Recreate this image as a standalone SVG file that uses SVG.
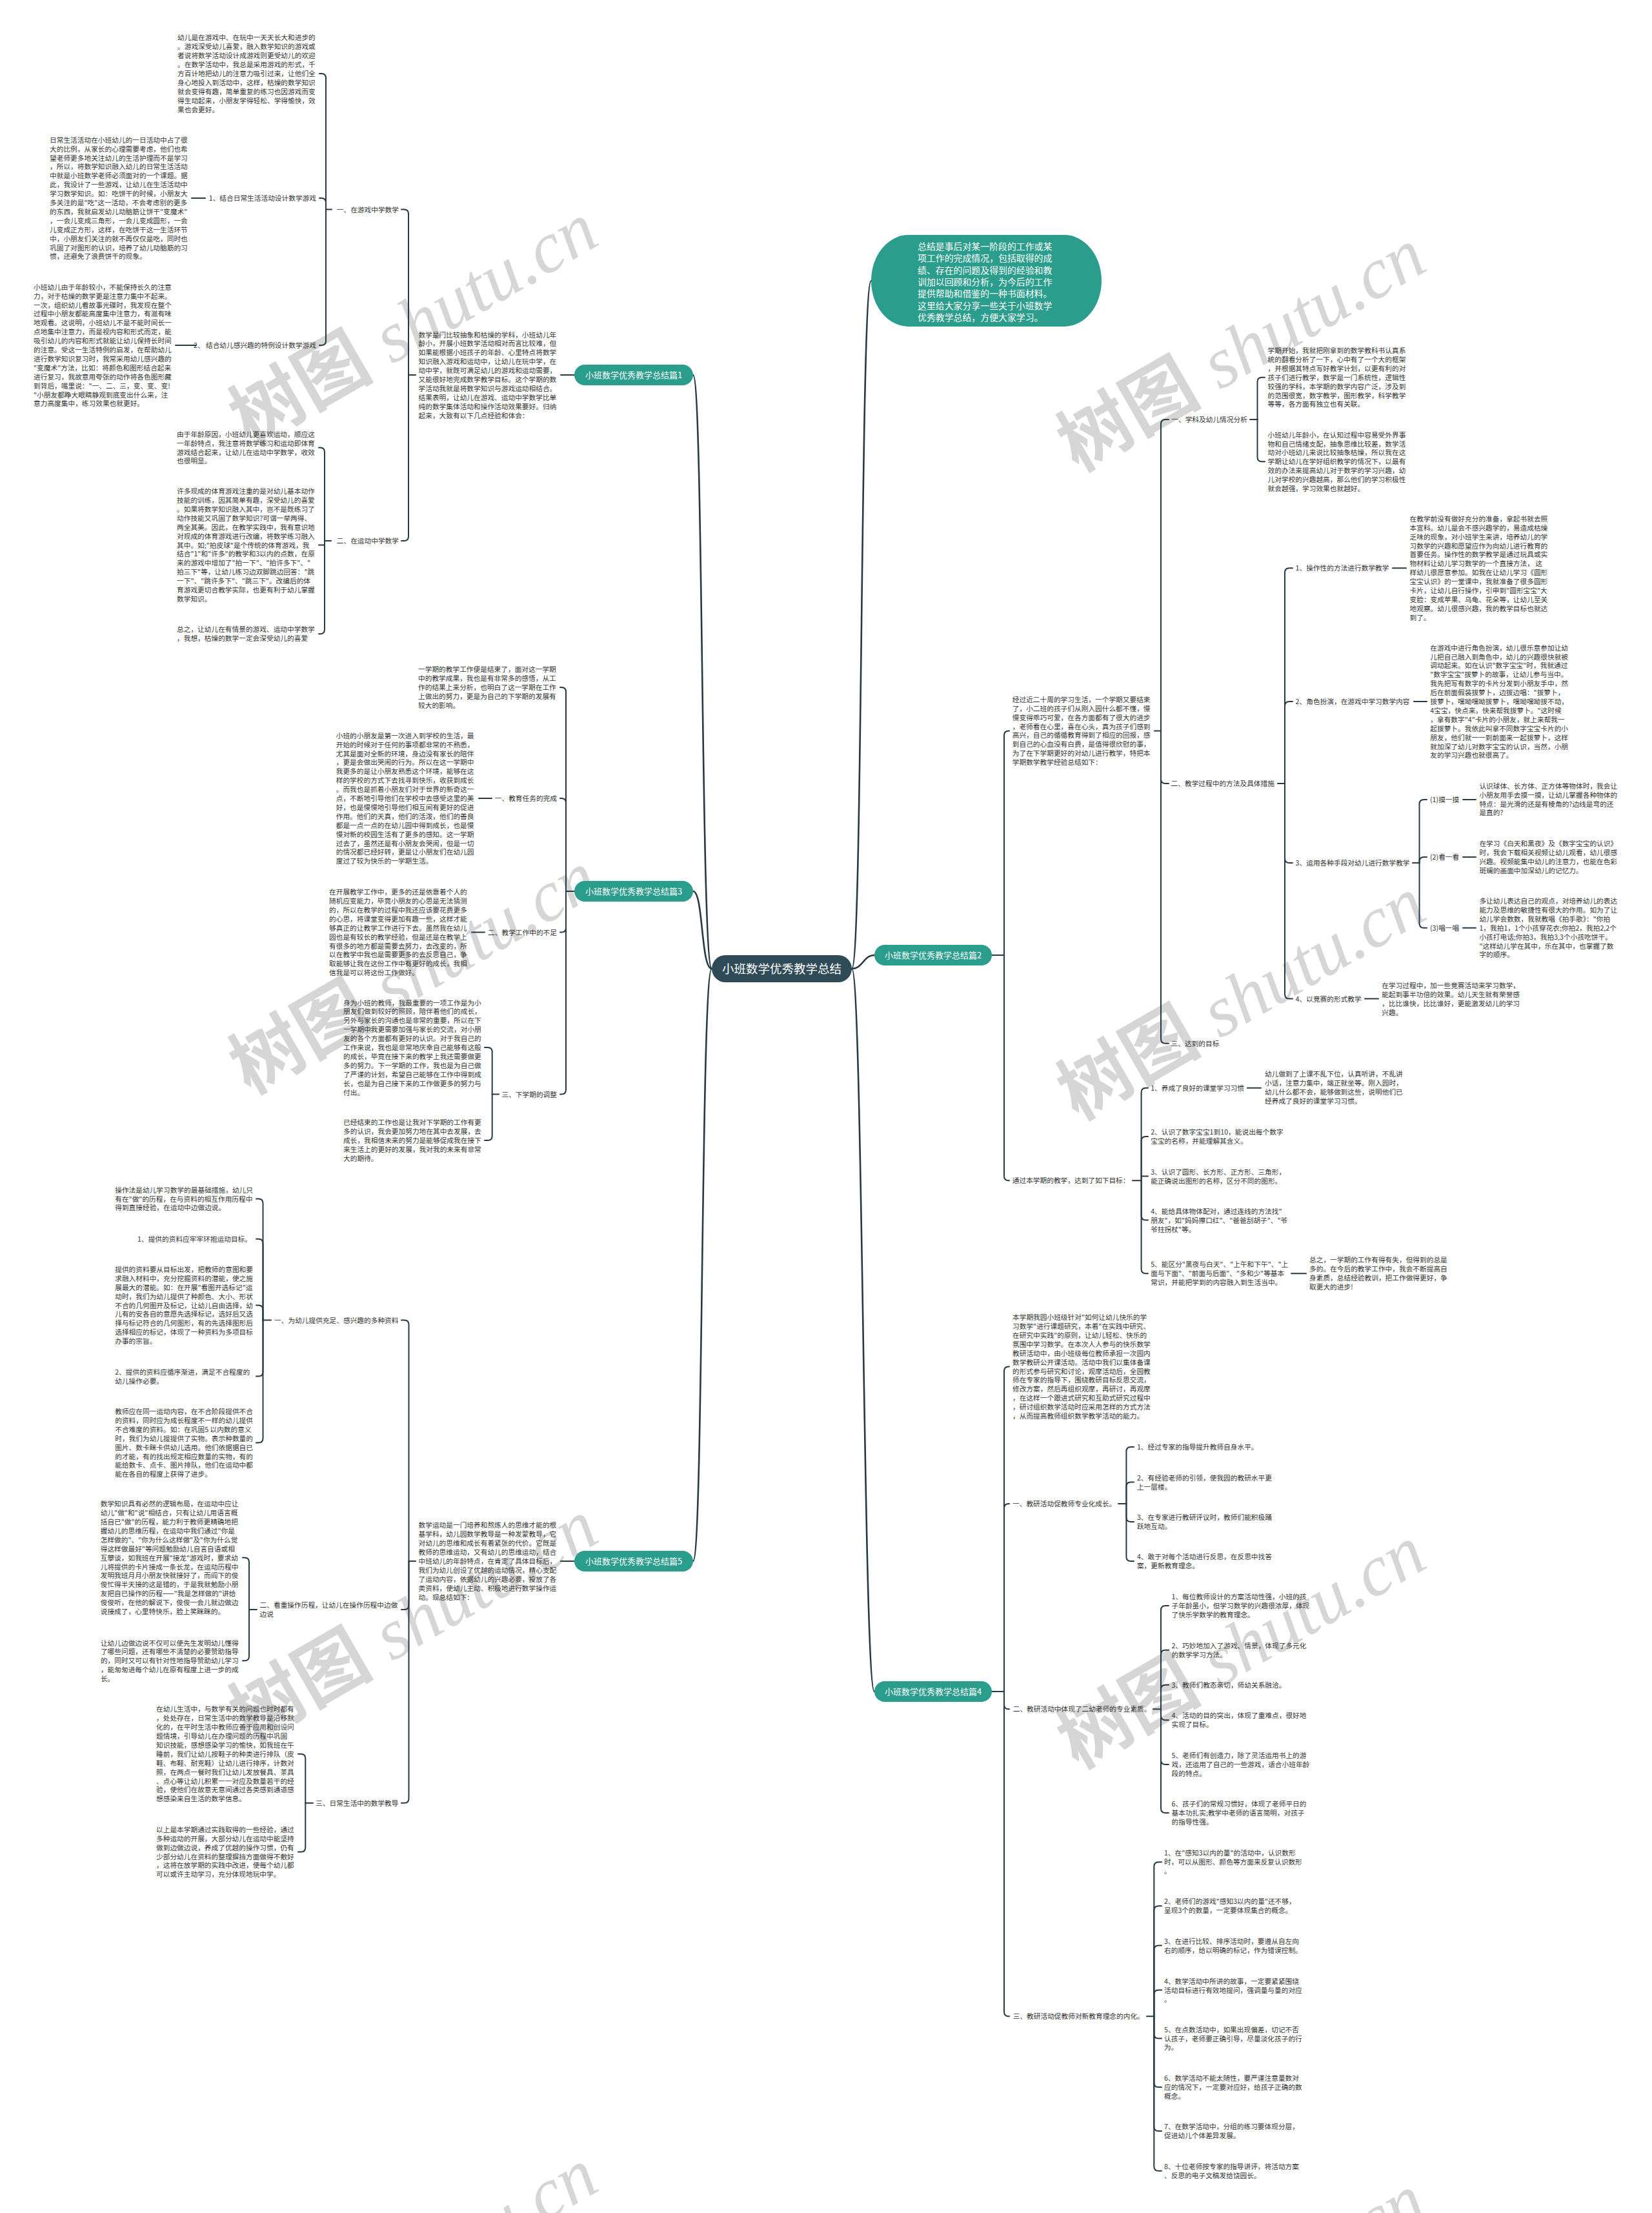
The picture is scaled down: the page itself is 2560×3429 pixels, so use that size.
<svg xmlns="http://www.w3.org/2000/svg" width="2560" height="3429" viewBox="0 0 2560 3429">
<style>
.t{font-family:"Noto Sans CJK SC","Noto Sans",sans-serif;font-size:10.7px;fill:#333}
.e{text-anchor:end}
.ln{fill:none;stroke:#263a44;stroke-width:2;stroke-linecap:round;stroke-linejoin:round}
.rl{fill:none;stroke:#263a44;stroke-width:2.6;stroke-linecap:round}
.bn{fill:#2a9d8c}
.bt{font-family:"Noto Sans CJK SC","Noto Sans",sans-serif;font-size:13px;fill:#fff;text-anchor:middle}
.wm{font-family:"Liberation Serif","Noto Sans CJK SC",serif;font-size:112px;fill:#d6d6d6}
</style>
<rect width="2560" height="3429" fill="#fff"/>
<g id="watermark" class="wm">
<text transform="translate(387 692) rotate(-30)"><tspan font-weight="700">树图</tspan><tspan dx="30" font-style="italic">shutu.cn</tspan></text>
<text transform="translate(387 1697) rotate(-30)"><tspan font-weight="700">树图</tspan><tspan dx="30" font-style="italic">shutu.cn</tspan></text>
<text transform="translate(387 2702) rotate(-30)"><tspan font-weight="700">树图</tspan><tspan dx="30" font-style="italic">shutu.cn</tspan></text>
<text transform="translate(387 3707) rotate(-30)"><tspan font-weight="700">树图</tspan><tspan dx="30" font-style="italic">shutu.cn</tspan></text>
<text transform="translate(1670 732) rotate(-30)"><tspan font-weight="700">树图</tspan><tspan dx="30" font-style="italic">shutu.cn</tspan></text>
<text transform="translate(1670 1737) rotate(-30)"><tspan font-weight="700">树图</tspan><tspan dx="30" font-style="italic">shutu.cn</tspan></text>
<text transform="translate(1670 2742) rotate(-30)"><tspan font-weight="700">树图</tspan><tspan dx="30" font-style="italic">shutu.cn</tspan></text>
<text transform="translate(1670 3747) rotate(-30)"><tspan font-weight="700">树图</tspan><tspan dx="30" font-style="italic">shutu.cn</tspan></text>
</g>

<g id="connectors">
<path class="rl" d="M1103 1501 C1086 1501 1090 581 1074 581"/>
<path class="rl" d="M1103 1501 C1086 1501 1090 1381 1074 1381"/>
<path class="rl" d="M1103 1501 C1086 1501 1090 2419 1074 2419"/>
<path class="rl" d="M1320 1501 C1337 1501 1333 435 1350 435"/>
<path class="rl" d="M1320 1501 C1337 1501 1338 1480 1355 1480"/>
<path class="rl" d="M1320 1501 C1337 1501 1338 2621 1355 2621"/>
<path class="ln" d="M890 581 H869"/>
<path class="ln" d="M644 581 H633"/>
<path class="ln" d="M633 581 V331.5 Q633 324.5 626 324.5 H622"/>
<path class="ln" d="M633 581 V831 Q633 838 626 838 H622"/>
<path class="ln" d="M514 324.5 H505"/>
<path class="ln" d="M505 324.5 V121 Q505 114 498 114 H495"/>
<path class="ln" d="M505 324.5 V314 Q505 307 498 307 H495"/>
<path class="ln" d="M505 324.5 V528 Q505 535 498 535 H495"/>
<path class="ln" d="M318 307 H297"/>
<path class="ln" d="M304 535 H272"/>
<path class="ln" d="M513 838 H503"/>
<path class="ln" d="M503 838 V700.5 Q503 693.5 496 693.5 H494"/>
<path class="ln" d="M503 844.5 H494"/>
<path class="ln" d="M503 838 V975.3 Q503 982.3 496 982.3 H494"/>
<path class="ln" d="M890 1381 H877"/>
<path class="ln" d="M877 1381 V1072 Q877 1065 870 1065 H868"/>
<path class="ln" d="M877 1381 V1244 Q877 1237 870 1237 H868"/>
<path class="ln" d="M877 1381 V1437.6 Q877 1444.6 870 1444.6 H868"/>
<path class="ln" d="M877 1381 V1688.6 Q877 1695.6 870 1695.6 H868"/>
<path class="ln" d="M762 1237 H742"/>
<path class="ln" d="M751 1444.6 H731"/>
<path class="ln" d="M773 1695.6 H762.7"/>
<path class="ln" d="M762.7 1695.6 V1630 Q762.7 1623 755.7 1623 H751"/>
<path class="ln" d="M762.7 1695.6 V1760 Q762.7 1767 755.7 1767 H751"/>
<path class="ln" d="M890 2419 H869"/>
<path class="ln" d="M644 2419 H633.5"/>
<path class="ln" d="M633.5 2419 V2052.5 Q633.5 2045.5 626.5 2045.5 H622"/>
<path class="ln" d="M633.5 2419 V2487 Q633.5 2494 626.5 2494 H622"/>
<path class="ln" d="M633.5 2419 V2786.7 Q633.5 2793.7 626.5 2793.7 H622"/>
<path class="ln" d="M420 2045.5 H407.5"/>
<path class="ln" d="M407.5 2045.5 V1864.5 Q407.5 1857.5 400.5 1857.5 H397"/>
<path class="ln" d="M407.5 2045.5 V1926.7 Q407.5 1919.7 400.5 1919.7 H397"/>
<path class="ln" d="M407.5 2045.5 V2029.5 Q407.5 2022.5 400.5 2022.5 H397"/>
<path class="ln" d="M407.5 2045.5 V2125.5 Q407.5 2132.5 400.5 2132.5 H397"/>
<path class="ln" d="M407.5 2045.5 V2228.6 Q407.5 2235.6 400.5 2235.6 H397"/>
<path class="ln" d="M398 2494 H386"/>
<path class="ln" d="M386 2494 V2420.6 Q386 2413.6 379 2413.6 H376"/>
<path class="ln" d="M386 2494 V2566.3 Q386 2573.3 379 2573.3 H376"/>
<path class="ln" d="M485 2793.7 H473.3"/>
<path class="ln" d="M473.3 2793.7 V2724.8 Q473.3 2717.8 466.3 2717.8 H462"/>
<path class="ln" d="M473.3 2793.7 V2862.5 Q473.3 2869.5 466.3 2869.5 H462"/>
<path class="ln" d="M1537 1480 H1556"/>
<path class="ln" d="M1556 1480 V1139.4 Q1556 1132.4 1563 1132.4 H1564"/>
<path class="ln" d="M1556 1480 V1822.3 Q1556 1829.3 1563 1829.3 H1564"/>
<path class="ln" d="M1789 1132.4 H1799"/>
<path class="ln" d="M1799 1132.4 V657 Q1799 650 1806 650 H1811"/>
<path class="ln" d="M1799 1132.4 V1207 Q1799 1214 1806 1214 H1811"/>
<path class="ln" d="M1799 1132.4 V1609.7 Q1799 1616.7 1806 1616.7 H1811"/>
<path class="ln" d="M1937 650 H1948.5"/>
<path class="ln" d="M1948.5 650 V591.7 Q1948.5 584.7 1955.5 584.7 H1960"/>
<path class="ln" d="M1948.5 650 V708.3 Q1948.5 715.3 1955.5 715.3 H1960"/>
<path class="ln" d="M1980 1214 H1991"/>
<path class="ln" d="M1991 1214 V887.2 Q1991 880.2 1998 880.2 H2003"/>
<path class="ln" d="M1991 1214 V1094 Q1991 1087 1998 1087 H2003"/>
<path class="ln" d="M1991 1214 V1330 Q1991 1337 1998 1337 H2003"/>
<path class="ln" d="M1991 1214 V1540.5 Q1991 1547.5 1998 1547.5 H2003"/>
<path class="ln" d="M2158 880.2 H2179"/>
<path class="ln" d="M2191 1087 H2211"/>
<path class="ln" d="M2189 1337 H2199.5"/>
<path class="ln" d="M2199.5 1337 V1246 Q2199.5 1239 2206.5 1239 H2211"/>
<path class="ln" d="M2199.5 1337 V1335 Q2199.5 1328 2206.5 1328 H2211"/>
<path class="ln" d="M2199.5 1337 V1430.7 Q2199.5 1437.7 2206.5 1437.7 H2211"/>
<path class="ln" d="M2267 1239 H2287"/>
<path class="ln" d="M2267 1328 H2287"/>
<path class="ln" d="M2267 1437.7 H2287"/>
<path class="ln" d="M2115 1547.5 H2136"/>
<path class="ln" d="M1755 1829.3 H1768.6"/>
<path class="ln" d="M1768.6 1829.3 V1692.7 Q1768.6 1685.7 1775.6 1685.7 H1779"/>
<path class="ln" d="M1768.6 1829.3 V1768 Q1768.6 1761 1775.6 1761 H1779"/>
<path class="ln" d="M1768.6 1822.5 H1779"/>
<path class="ln" d="M1768.6 1829.3 V1883.6 Q1768.6 1890.6 1775.6 1890.6 H1779"/>
<path class="ln" d="M1768.6 1829.3 V1966.3 Q1768.6 1973.3 1775.6 1973.3 H1779"/>
<path class="ln" d="M1933 1685.7 H1954"/>
<path class="ln" d="M2001 1973.3 H2024"/>
<path class="ln" d="M1537 2621 H1556"/>
<path class="ln" d="M1556 2621 V2124.5 Q1556 2117.5 1563 2117.5 H1564"/>
<path class="ln" d="M1556 2621 V2337 Q1556 2330 1563 2330 H1564"/>
<path class="ln" d="M1556 2621 V2641.3 Q1556 2648.3 1563 2648.3 H1564"/>
<path class="ln" d="M1556 2621 V3117.3 Q1556 3124.3 1563 3124.3 H1564"/>
<path class="ln" d="M1733 2330 H1745.4"/>
<path class="ln" d="M1745.4 2330 V2249 Q1745.4 2242 1752.4 2242 H1757"/>
<path class="ln" d="M1745.4 2330 V2303.5 Q1745.4 2296.5 1752.4 2296.5 H1757"/>
<path class="ln" d="M1745.4 2330 V2351 Q1745.4 2358 1752.4 2358 H1757"/>
<path class="ln" d="M1745.4 2330 V2412 Q1745.4 2419 1752.4 2419 H1757"/>
<path class="ln" d="M1787 2648.3 H1799"/>
<path class="ln" d="M1799 2648.3 V2495 Q1799 2488 1806 2488 H1811"/>
<path class="ln" d="M1799 2648.3 V2563.8 Q1799 2556.8 1806 2556.8 H1811"/>
<path class="ln" d="M1799 2648.3 V2617.7 Q1799 2610.7 1806 2610.7 H1811"/>
<path class="ln" d="M1799 2648.3 V2658.3 Q1799 2665.3 1806 2665.3 H1811"/>
<path class="ln" d="M1799 2648.3 V2727 Q1799 2734 1806 2734 H1811"/>
<path class="ln" d="M1799 2648.3 V2802 Q1799 2809 1806 2809 H1811"/>
<path class="ln" d="M1777 3124.3 H1788.3"/>
<path class="ln" d="M1788.3 3124.3 V2892.3 Q1788.3 2885.3 1795.3 2885.3 H1800"/>
<path class="ln" d="M1788.3 3124.3 V2960.3 Q1788.3 2953.3 1795.3 2953.3 H1800"/>
<path class="ln" d="M1788.3 3124.3 V3021.5 Q1788.3 3014.5 1795.3 3014.5 H1800"/>
<path class="ln" d="M1788.3 3124.3 V3090.6 Q1788.3 3083.6 1795.3 3083.6 H1800"/>
<path class="ln" d="M1788.3 3124.3 V3151.5 Q1788.3 3158.5 1795.3 3158.5 H1800"/>
<path class="ln" d="M1788.3 3124.3 V3227 Q1788.3 3234 1795.3 3234 H1800"/>
<path class="ln" d="M1788.3 3124.3 V3295 Q1788.3 3302 1795.3 3302 H1800"/>
<path class="ln" d="M1788.3 3124.3 V3356.7 Q1788.3 3363.7 1795.3 3363.7 H1800"/>
</g>

<g id="root">
<rect x="1103" y="1480" width="217" height="42" rx="21" fill="#2f4b57"/>
<text x="1211.5" y="1507.5" font-family="Noto Sans CJK SC, Noto Sans, sans-serif" font-size="18.5" fill="#fff" text-anchor="middle">小班数学优秀教学总结</text>
</g>

<g id="intro">
<rect x="1350" y="364" width="357" height="142" rx="58" ry="71" class="bn"/>
<text font-family="Noto Sans CJK SC, Noto Sans, sans-serif" font-size="13.9" fill="#fff">
<tspan x="1422" y="387">总结是事后对某一阶段的工作或某</tspan>
<tspan x="1422" y="405.3">项工作的完成情况，包括取得的成</tspan>
<tspan x="1422" y="423.6">绩、存在的问题及得到的经验和教</tspan>
<tspan x="1422" y="441.9">训加以回顾和分析，为今后的工作</tspan>
<tspan x="1422" y="460.2">提供帮助和借鉴的一种书面材料。</tspan>
<tspan x="1422" y="478.5">这里给大家分享一些关于小班数学</tspan>
<tspan x="1422" y="496.8">优秀教学总结，方便大家学习。</tspan>
</text>
</g>

<g id="p1">
<rect x="890" y="565" width="184" height="32" rx="16" class="bn"/>
<text class="bt" x="982" y="585.9">小班数学优秀教学总结篇1</text>
</g>
<g id="p1-intro"><text class="t">
<tspan x="648.5" y="522.5">数学是门比较抽象和枯燥的学科，小班幼儿年</tspan>
<tspan x="648.5" y="536.4">龄小，开展小班数学活动相对而言比较难，但</tspan>
<tspan x="648.5" y="550.3">如果能根据小班孩子的年龄、心里特点将数学</tspan>
<tspan x="648.5" y="564.2">知识融入游戏和运动中，让幼儿在玩中学，在</tspan>
<tspan x="648.5" y="578.1">动中学，就既可满足幼儿的游戏和运动需要，</tspan>
<tspan x="648.5" y="592">又能很好地完成数学教学目标。这个学期的数</tspan>
<tspan x="648.5" y="605.9">学活动我就是将数学知识与游戏运动相结合。</tspan>
<tspan x="648.5" y="619.8">结果表明，让幼儿在游戏、运动中学数学比单</tspan>
<tspan x="648.5" y="633.7">纯的数学集体活动和操作活动效果要好。归纳</tspan>
<tspan x="648.5" y="647.6">起来，大致有以下几点经验和体会：</tspan>
</text></g>
<g id="p1-1"><text class="t e" x="618" y="328.5">一、在游戏中学数学</text></g>
<g id="p1-1-a"><text class="t">
<tspan x="275" y="62.4">幼儿是在游戏中、在玩中一天天长大和进步的</tspan>
<tspan x="275" y="76.3">。游戏深受幼儿喜爱，融入数学知识的游戏或</tspan>
<tspan x="275" y="90.2">者说将数学活动设计成游戏则更受幼儿的欢迎</tspan>
<tspan x="275" y="104.1">。在数学活动中，我总是采用游戏的形式，千</tspan>
<tspan x="275" y="118">方百计地把幼儿的注意力吸引过来，让他们全</tspan>
<tspan x="275" y="131.9">身心地投入到活动中，这样，枯燥的数学知识</tspan>
<tspan x="275" y="145.8">就会变得有趣，简单重复的练习也因游戏而变</tspan>
<tspan x="275" y="159.7">得生动起来，小朋友学得轻松、学得愉快，效</tspan>
<tspan x="275" y="173.6">果也会更好。</tspan>
</text></g>
<g id="p1-1-1"><text class="t e" x="490" y="311">1、结合日常生活活动设计数学游戏</text></g>
<g id="p1-1-1-a"><text class="t">
<tspan x="77" y="220.7">日常生活活动在小班幼儿的一日活动中占了很</tspan>
<tspan x="77" y="234.6">大的比例，从家长的心理需要考虑，他们也希</tspan>
<tspan x="77" y="248.5">望老师更多地关注幼儿的生活护理而不是学习</tspan>
<tspan x="77" y="262.4">，所以，将数学知识融入幼儿的日常生活活动</tspan>
<tspan x="77" y="276.3">中就是小班数学老师必须面对的一个课题。据</tspan>
<tspan x="77" y="290.2">此，我设计了一些游戏，让幼儿在生活活动中</tspan>
<tspan x="77" y="304.1">学习数学知识。如：吃饼干的时候，小朋友大</tspan>
<tspan x="77" y="318">多关注的是"吃"这一活动，不会考虑别的更多</tspan>
<tspan x="77" y="331.9">的东西，我就启发幼儿动脑筋让饼干"变魔术"</tspan>
<tspan x="77" y="345.8">，一会儿变成三角形，一会儿变成圆形，一会</tspan>
<tspan x="77" y="359.7">儿变成正方形，这样，在吃饼干这一生活环节</tspan>
<tspan x="77" y="373.6">中，小朋友们关注的就不再仅仅是吃，同时也</tspan>
<tspan x="77" y="387.5">巩固了对图形的认识，培养了幼儿动脑筋的习</tspan>
<tspan x="77" y="401.4">惯，还避免了浪费饼干的现象。</tspan>
</text></g>
<g id="p1-1-2"><text class="t e" x="490" y="539">2、 结合幼儿感兴趣的特例设计数学游戏</text></g>
<g id="p1-1-2-a"><text class="t">
<tspan x="52" y="448.7">小班幼儿由于年龄较小，不能保持长久的注意</tspan>
<tspan x="52" y="462.6">力，对于枯燥的数学更是注意力集中不起来。</tspan>
<tspan x="52" y="476.5">一次，组织幼儿看故事光碟时，我发现在整个</tspan>
<tspan x="52" y="490.4">过程中小朋友都能高度集中注意力，有滋有味</tspan>
<tspan x="52" y="504.3">地观看。这说明，小班幼儿不是不能时间长一</tspan>
<tspan x="52" y="518.2">点地集中注意力，而是视内容和形式而定，能</tspan>
<tspan x="52" y="532.1">吸引幼儿的内容和形式就能让幼儿保持长时间</tspan>
<tspan x="52" y="546">的注意。受这一生活特例的启发，在帮助幼儿</tspan>
<tspan x="52" y="559.9">进行数学知识复习时，我常采用幼儿感兴趣的</tspan>
<tspan x="52" y="573.8">"变魔术"方法，比如：将颜色和图形结合起来</tspan>
<tspan x="52" y="587.7">进行复习，我故意用夸张的动作将各色图形藏</tspan>
<tspan x="52" y="601.6">到背后，嘴里说："一、二、三，变、变、变!</tspan>
<tspan x="52" y="615.5">"小朋友都睁大眼睛静观到底变出什么来，注</tspan>
<tspan x="52" y="629.4">意力高度集中，练习效果也就更好。</tspan>
</text></g>
<g id="p1-2"><text class="t e" x="618" y="842">二、在运动中学数学</text></g>
<g id="p1-2-a"><text class="t">
<tspan x="274" y="676.7">由于年龄原因，小班幼儿更喜欢运动，顺应这</tspan>
<tspan x="274" y="690.6">一年龄特点，我注意将数学练习和运动即体育</tspan>
<tspan x="274" y="704.5">游戏结合起来，让幼儿在运动中学数学，收效</tspan>
<tspan x="274" y="718.4">也很明显。</tspan>
</text></g>
<g id="p1-2-b"><text class="t">
<tspan x="274" y="765.1">许多现成的体育游戏注重的是对幼儿基本动作</tspan>
<tspan x="274" y="779">技能的训练，因其简单有趣，深受幼儿的喜爱</tspan>
<tspan x="274" y="792.9">。如果将数学知识融入其中，岂不是既练习了</tspan>
<tspan x="274" y="806.8">动作技能又巩固了数学知识?可谓一举两得、</tspan>
<tspan x="274" y="820.7">两全其美。因此，在教学实践中，我有意识地</tspan>
<tspan x="274" y="834.6">对现成的体育游戏进行改编，将数学练习融入</tspan>
<tspan x="274" y="848.5">其中。如;"拍皮球"是个传统的体育游戏，我</tspan>
<tspan x="274" y="862.4">结合"1"和"许多"的教学和3以内的点数，在原</tspan>
<tspan x="274" y="876.3">来的游戏中增加了"拍一下"、"拍许多下"、"</tspan>
<tspan x="274" y="890.2">拍三下"等，让幼儿练习边双脚跳边回答："跳</tspan>
<tspan x="274" y="904.1">一下"、"跳许多下"、"跳三下"。改编后的体</tspan>
<tspan x="274" y="918">育游戏更切合教学实际，也更有利于幼儿掌握</tspan>
<tspan x="274" y="931.9">数学知识。</tspan>
</text></g>
<g id="p1-2-c"><text class="t">
<tspan x="274" y="979.4">总之，让幼儿在有情景的游戏、运动中学数学</tspan>
<tspan x="274" y="993.3">，我想，枯燥的数学一定会深受幼儿的喜爱</tspan>
</text></g>

<g id="p3">
<rect x="890" y="1365" width="184" height="32" rx="16" class="bn"/>
<text class="bt" x="982" y="1385.9">小班数学优秀教学总结篇3</text>
</g>
<g id="p3-intro"><text class="t">
<tspan x="648" y="1041.2">一学期的教学工作便是结束了，面对这一学期</tspan>
<tspan x="648" y="1055.1">中的教学成果，我也是有非常多的感悟，从工</tspan>
<tspan x="648" y="1069">作的结果上来分析，也明白了这一学期在工作</tspan>
<tspan x="648" y="1082.9">上做出的努力，更是为自己的下学期的发展有</tspan>
<tspan x="648" y="1096.8">较大的影响。</tspan>
</text></g>
<g id="p3-1"><text class="t e" x="863" y="1241">一、教育任务的完成</text></g>
<g id="p3-1-a"><text class="t">
<tspan x="520.7" y="1143.7">小班的小朋友是第一次进入到学校的生活，最</tspan>
<tspan x="520.7" y="1157.6">开始的时候对于任何的事项都非常的不熟悉，</tspan>
<tspan x="520.7" y="1171.5">尤其是面对全新的环境，身边没有家长的陪伴</tspan>
<tspan x="520.7" y="1185.4">，更是会做出哭闹的行为。所以在这一学期中</tspan>
<tspan x="520.7" y="1199.3">我更多的是让小朋友熟悉这个环境，能够在这</tspan>
<tspan x="520.7" y="1213.2">样的学校的方式下去找寻到快乐，收获到成长</tspan>
<tspan x="520.7" y="1227.1">。而我也是抓着小朋友们对于世界的新奇这一</tspan>
<tspan x="520.7" y="1241">点，不断地引导他们在学校中去感受这里的美</tspan>
<tspan x="520.7" y="1254.9">好，也是慢慢地引导他们相互间有更好的促进</tspan>
<tspan x="520.7" y="1268.8">作用。他们的天真，他们的活泼，他们的善良</tspan>
<tspan x="520.7" y="1282.7">都是一点一点的在幼儿园中得到成长，也是慢</tspan>
<tspan x="520.7" y="1296.6">慢对新的校园生活有了更多的感知。这一学期</tspan>
<tspan x="520.7" y="1310.5">过去了，虽然还是有小朋友会哭闹，但是一切</tspan>
<tspan x="520.7" y="1324.4">的情况都已经好转，更是让小朋友们在幼儿园</tspan>
<tspan x="520.7" y="1338.3">度过了较为快乐的一学期生活。</tspan>
</text></g>
<g id="p3-2"><text class="t e" x="863" y="1448.6">二、教学工作中的不足</text></g>
<g id="p3-2-a"><text class="t">
<tspan x="510" y="1386.1">在开展教学工作中，更多的还是依靠着个人的</tspan>
<tspan x="510" y="1400">随机应变能力，毕竟小朋友的心思是无法猜测</tspan>
<tspan x="510" y="1413.9">的，所以在教学的过程中我还应该要花费更多</tspan>
<tspan x="510" y="1427.8">的心思，将课堂变得更加有趣一些，这样才能</tspan>
<tspan x="510" y="1441.7">够真正的让教学工作进行下去。虽然我在幼儿</tspan>
<tspan x="510" y="1455.6">园也是有较长的教学经验，但是还是在教学上</tspan>
<tspan x="510" y="1469.5">有很多的地方都是需要去努力，去改变的，所</tspan>
<tspan x="510" y="1483.4">以在教学中我也是需要更多的去反思自己，争</tspan>
<tspan x="510" y="1497.3">取能够让我在这份工作中有更好的成长，我相</tspan>
<tspan x="510" y="1511.2">信我是可以将这份工作做好。</tspan>
</text></g>
<g id="p3-3"><text class="t e" x="863" y="1699.6">三、下学期的调整</text></g>
<g id="p3-3-a"><text class="t">
<tspan x="532" y="1557.5">身为小班的教师，我最重要的一项工作是为小</tspan>
<tspan x="532" y="1571.4">朋友们做到较好的照顾，陪伴着他们的成长，</tspan>
<tspan x="532" y="1585.3">另外与家长的沟通也是非常的重要，所以在下</tspan>
<tspan x="532" y="1599.2">一学期中我更需要加强与家长的交流，对小朋</tspan>
<tspan x="532" y="1613.1">友的各个方面都有更好的认识。对于我自己的</tspan>
<tspan x="532" y="1627">工作来说，我也是非常地庆幸自己能够有这般</tspan>
<tspan x="532" y="1640.9">的成长，毕竟在接下来的教学上我还需要做更</tspan>
<tspan x="532" y="1654.8">多的努力。下一学期的工作，我也是为自己做</tspan>
<tspan x="532" y="1668.7">了严谨的计划，希望自己能够在工作中得到成</tspan>
<tspan x="532" y="1682.6">长，也是为自己接下来的工作做更多的努力与</tspan>
<tspan x="532" y="1696.5">付出。</tspan>
</text></g>
<g id="p3-3-b"><text class="t">
<tspan x="532" y="1743.2">已经结束的工作也是让我对下学期的工作有更</tspan>
<tspan x="532" y="1757.1">多的认识，我会更加努力地在其中去发展，去</tspan>
<tspan x="532" y="1771">成长，我相信未来的努力是能够促成我在接下</tspan>
<tspan x="532" y="1784.9">来生活上的更好的发展，我对我的未来有非常</tspan>
<tspan x="532" y="1798.8">大的期待。</tspan>
</text></g>

<g id="p5">
<rect x="890" y="2403" width="184" height="32" rx="16" class="bn"/>
<text class="bt" x="982" y="2423.9">小班数学优秀教学总结篇5</text>
</g>
<g id="p5-intro"><text class="t">
<tspan x="648.5" y="2367.4">数学运动是一门培养和熬炼人的思维才能的根</tspan>
<tspan x="648.5" y="2381.3">基学科，幼儿园数学教导是一种发蒙教导，它</tspan>
<tspan x="648.5" y="2395.2">对幼儿的思维和成长有着紧张的代价。它既是</tspan>
<tspan x="648.5" y="2409.1">教师的思维运动，又有幼儿的思维运动，结合</tspan>
<tspan x="648.5" y="2423">中班幼儿的年龄特点，在肯定了具体目标后，</tspan>
<tspan x="648.5" y="2436.9">我们为幼儿创设了优越的运动情况，精心支配</tspan>
<tspan x="648.5" y="2450.8">了运动内容，依据幼儿的兴趣必要，投放了各</tspan>
<tspan x="648.5" y="2464.7">类资料，使幼儿主动、积极地进行数学操作运</tspan>
<tspan x="648.5" y="2478.6">动。现总结如下：</tspan>
</text></g>
<g id="p5-1"><text class="t e" x="617.5" y="2049.5">一、为幼儿提供充足、感兴趣的多种资料</text></g>
<g id="p5-1-a"><text class="t">
<tspan x="178.2" y="1847.6">操作法是幼儿学习数学的最基础措施，幼儿只</tspan>
<tspan x="178.2" y="1861.5">有在"做"的历程，在与资料的相互作用历程中</tspan>
<tspan x="178.2" y="1875.4">得到直接经验，在运动中边做边说。</tspan>
</text></g>
<g id="p5-1-b"><text class="t e" x="390" y="1923.7">1、提供的资料应牢牢环抱运动目标。</text></g>
<g id="p5-1-c"><text class="t">
<tspan x="178.2" y="1970.9">提供的资料要从目标出发，把教师的意图和要</tspan>
<tspan x="178.2" y="1984.8">求融入材料中，充分挖掘资料的潜能，使之施</tspan>
<tspan x="178.2" y="1998.7">展最大的潜能。如：在开展"看图开选标记"运</tspan>
<tspan x="178.2" y="2012.6">动时，我们为幼儿提供了种颜色、大小、形状</tspan>
<tspan x="178.2" y="2026.5">不合的几何图开及标记，让幼儿自由选择，幼</tspan>
<tspan x="178.2" y="2040.4">儿有的安各自的意愿先选择标记，选好后又选</tspan>
<tspan x="178.2" y="2054.3">择与标记符合的几何图形，有的先选择图形后</tspan>
<tspan x="178.2" y="2068.2">选择相应的标记，体现了一种资料为多项目标</tspan>
<tspan x="178.2" y="2082.1">办事的宗旨。</tspan>
</text></g>
<g id="p5-1-d"><text class="t">
<tspan x="178.2" y="2129.6">2、提供的资料应循序渐进，满足不合程度的</tspan>
<tspan x="178.2" y="2143.5">幼儿操作必要。</tspan>
</text></g>
<g id="p5-1-e"><text class="t">
<tspan x="178.2" y="2191">教师应在同一运动内容，在不合阶段提供不合</tspan>
<tspan x="178.2" y="2204.9">的资料，同时应为成长程度不一样的幼儿提供</tspan>
<tspan x="178.2" y="2218.8">不合难度的资料。如：在巩固5 以内数的意义</tspan>
<tspan x="178.2" y="2232.7">时，我们为幼儿提提供了实物。表示种数量的</tspan>
<tspan x="178.2" y="2246.6">图片、数卡眯卡供幼儿选用。他们依据据自已</tspan>
<tspan x="178.2" y="2260.5">的才能，有的找出规定相应数量的实物，有的</tspan>
<tspan x="178.2" y="2274.4">能给数卡、点卡、图片排队，他们在运动中都</tspan>
<tspan x="178.2" y="2288.3">能在各自的程度上获得了进步。</tspan>
</text></g>
<g id="p5-2"><text class="t">
<tspan x="402.6" y="2491.1">二、看重操作历程，让幼儿在操作历程中边做</tspan>
<tspan x="402.6" y="2505">边说</tspan>
</text></g>
<g id="p5-2-a"><text class="t">
<tspan x="155.7" y="2334.2">数学知识具有必然的逻辑布局，在运动中应让</tspan>
<tspan x="155.7" y="2348.1">幼儿"做"和"说"相结合，只有让幼儿用语言概</tspan>
<tspan x="155.7" y="2362">括自已"做"的历程，能力利于教师更精确地把</tspan>
<tspan x="155.7" y="2375.9">握幼儿的思维历程，在运动中我们通过"你是</tspan>
<tspan x="155.7" y="2389.8">怎样做的"、"你为什么这样做"及"你为什么觉</tspan>
<tspan x="155.7" y="2403.7">得这样做最好"等问题勉励幼儿自言自语或相</tspan>
<tspan x="155.7" y="2417.6">互攀谈，如我班在开展"接龙"游戏时，要求幼</tspan>
<tspan x="155.7" y="2431.5">儿将提供的卡片接成一条长龙，在运动历程中</tspan>
<tspan x="155.7" y="2445.4">发明我班月月小朋友快就接好了，而阎下的俊</tspan>
<tspan x="155.7" y="2459.3">俊忙得半天接的这是错的，于是我就勉励小朋</tspan>
<tspan x="155.7" y="2473.2">友把自已操作的历程——"我是怎样做的"讲给</tspan>
<tspan x="155.7" y="2487.1">俊俊听，在他的解说下，俊俊一会儿就边做边</tspan>
<tspan x="155.7" y="2501">说接成了，心里特快乐，脸上笑眯眯的。</tspan>
</text></g>
<g id="p5-2-b"><text class="t">
<tspan x="155.9" y="2549.5">让幼儿边做边说不仅可以使先生发明幼儿懂得</tspan>
<tspan x="155.9" y="2563.4">了哪些问题，还有哪些不清楚的必要赞助指导</tspan>
<tspan x="155.9" y="2577.3">的，同时又可以有针对性地指导赞助幼儿学习</tspan>
<tspan x="155.9" y="2591.2">，能匆匆进每个幼儿在原有程度上进一步的成</tspan>
<tspan x="155.9" y="2605.1">长。</tspan>
</text></g>
<g id="p5-3"><text class="t e" x="617.5" y="2797.7">三、日常生活中的数学教导</text></g>
<g id="p5-3-a"><text class="t">
<tspan x="242" y="2652.3">在幼儿生活中，与数学有关的问题也时时都有</tspan>
<tspan x="242" y="2666.2">，处处存在，日常生活中的数学教导是沿移默</tspan>
<tspan x="242" y="2680.1">化的，在平时生活中教师应善于应用和创设问</tspan>
<tspan x="242" y="2694">题情境，引导幼儿在办理问题的历程中巩固</tspan>
<tspan x="242" y="2707.9">知识技能，感想感染学习的愉快，如我班在午</tspan>
<tspan x="242" y="2721.8">睡前，我们让幼儿按鞋子的种类进行排队（皮</tspan>
<tspan x="242" y="2735.7">鞋、布鞋、耐克鞋）让幼儿进行排序，计数对</tspan>
<tspan x="242" y="2749.6">照，在两点一餐时我们让幼儿发放餐具、茶具</tspan>
<tspan x="242" y="2763.5">、点心等让幼儿积累一一对应及数量若干的经</tspan>
<tspan x="242" y="2777.4">验，使他们在故意无意间通过各类感到通道感</tspan>
<tspan x="242" y="2791.3">想感染来自生活的数学信息。</tspan>
</text></g>
<g id="p5-3-b"><text class="t">
<tspan x="242" y="2838.8">以上是本学期通过实践取得的一些经验，通过</tspan>
<tspan x="242" y="2852.7">多种运动的开展，大部分幼儿在运动中能坚持</tspan>
<tspan x="242" y="2866.6">做到边做边说，养成了优越的操作习惯，仍有</tspan>
<tspan x="242" y="2880.5">少部分幼儿在资料的整理摒挡方面做得不敷好</tspan>
<tspan x="242" y="2894.4">，这将在放学期的实践中改进，使每个幼儿都</tspan>
<tspan x="242" y="2908.3">可以或许主动学习，充分体现地玩中学。</tspan>
</text></g>

<g id="p2">
<rect x="1355" y="1464" width="182" height="32" rx="16" class="bn"/>
<text class="bt" x="1446" y="1484.9">小班数学优秀教学总结篇2</text>
</g>
<g id="p2-intro"><text class="t">
<tspan x="1568.8" y="1087.8">经过近二十周的学习生活，一个学期又要结束</tspan>
<tspan x="1568.8" y="1101.7">了，小二班的孩子们从刚入园什么都不懂，慢</tspan>
<tspan x="1568.8" y="1115.6">慢变得乖巧可爱，在各方面都有了很大的进步</tspan>
<tspan x="1568.8" y="1129.5">，老师看在心里，喜在心头，真为孩子们感到</tspan>
<tspan x="1568.8" y="1143.4">高兴，自己的循循教育得到了相应的回报，感</tspan>
<tspan x="1568.8" y="1157.3">到自己的心血没有白费，是值得很欣慰的事，</tspan>
<tspan x="1568.8" y="1171.2">为了在下学期更好的对幼儿进行教学，特把本</tspan>
<tspan x="1568.8" y="1185.1">学期数学教学经验总结如下：</tspan>
</text></g>
<g id="p2-1"><text class="t" x="1815.3" y="654">一、学科及幼儿情况分析</text></g>
<g id="p2-1-a"><text class="t">
<tspan x="1964.6" y="547">学期开始，我就把刚拿到的数学教科书认真系</tspan>
<tspan x="1964.6" y="560.9">统的翻看分析了一下，心中有了一个大的框架</tspan>
<tspan x="1964.6" y="574.8">，并根据其特点写好教学计划，以更有利的对</tspan>
<tspan x="1964.6" y="588.7">孩子们进行教学，数学是一门系统性，逻辑性</tspan>
<tspan x="1964.6" y="602.6">较强的学科，本学期的数学内容广泛，涉及到</tspan>
<tspan x="1964.6" y="616.5">的范围很宽，数字教学，图形教学，科学教学</tspan>
<tspan x="1964.6" y="630.4">等等，各方面有独立也有关联。</tspan>
</text></g>
<g id="p2-1-b"><text class="t">
<tspan x="1964.6" y="677.6">小班幼儿年龄小，在认知过程中容易受外界事</tspan>
<tspan x="1964.6" y="691.5">物和自己情绪支配，抽象思维比较差，数学活</tspan>
<tspan x="1964.6" y="705.4">动对小班幼儿来说比较抽象枯燥，所以我在这</tspan>
<tspan x="1964.6" y="719.3">学期让幼儿在学好组织教学的情况下，以最有</tspan>
<tspan x="1964.6" y="733.2">效的办法来提高幼儿对于数学的学习兴趣，幼</tspan>
<tspan x="1964.6" y="747.1">儿对学校的兴趣越高，那么他们的学习积极性</tspan>
<tspan x="1964.6" y="761">就会越强，学习效果也就越好。</tspan>
</text></g>
<g id="p2-2"><text class="t" x="1814.6" y="1218">二、教学过程中的方法及具体措施</text></g>
<g id="p2-2-1"><text class="t" x="2007.6" y="884.2">1、操作性的方法进行数学教学</text></g>
<g id="p2-2-1-a"><text class="t">
<tspan x="2184.5" y="807.8">在教学前没有做好充分的准备，拿起书就去照</tspan>
<tspan x="2184.5" y="821.7">本宣科。幼儿是会不感兴趣学的，易造成枯燥</tspan>
<tspan x="2184.5" y="835.6">乏味的现象，对小班学生来讲，培养幼儿的学</tspan>
<tspan x="2184.5" y="849.5">习数学的兴趣和愿望应作为向幼儿进行教育的</tspan>
<tspan x="2184.5" y="863.4">首要任务。操作性的数学教学是通过玩具或实</tspan>
<tspan x="2184.5" y="877.3">物材料让幼儿学习数学的一个直接方法，  这</tspan>
<tspan x="2184.5" y="891.2">样幼儿很愿意参加。如我在让幼儿学习《圆形</tspan>
<tspan x="2184.5" y="905.1">宝宝认识》的一堂课中，我就准备了很多圆形</tspan>
<tspan x="2184.5" y="919">卡片，让幼儿自行操作，引申到"圆形宝宝"大</tspan>
<tspan x="2184.5" y="932.9">变脸：变成苹果、乌龟、花朵等，让幼儿至关</tspan>
<tspan x="2184.5" y="946.8">地观察。幼儿很感兴趣，我的教学目标也就达</tspan>
<tspan x="2184.5" y="960.7">到了。</tspan>
</text></g>
<g id="p2-2-2"><text class="t" x="2007.6" y="1091">2、角色扮演，在游戏中学习数学内容</text></g>
<g id="p2-2-2-a"><text class="t">
<tspan x="2216.3" y="1007.6">在游戏中进行角色扮演，幼儿很乐意参加让幼</tspan>
<tspan x="2216.3" y="1021.5">儿把自己融入到角色中，幼儿的兴趣很快就被</tspan>
<tspan x="2216.3" y="1035.4">调动起来。如在认识"数字宝宝"时，我就通过</tspan>
<tspan x="2216.3" y="1049.3">"数字宝宝"拔萝卜的故事，让幼儿参与当中。</tspan>
<tspan x="2216.3" y="1063.2">我先把写有数字的卡片分发到小朋友手中，然</tspan>
<tspan x="2216.3" y="1077.1">后在前面假装拔萝卜，边拔边唱："拔萝卜，</tspan>
<tspan x="2216.3" y="1091">拔萝卜，嘿呦嘿呦拔萝卜，嘿呦嘿呦拔不动，</tspan>
<tspan x="2216.3" y="1104.9">4宝宝，快点来，快来帮我拔萝卜。"这时候</tspan>
<tspan x="2216.3" y="1118.8">，拿有数字"4"卡片的小朋友，就上来帮我一</tspan>
<tspan x="2216.3" y="1132.7">起拔萝卜。我依此叫拿不同数字宝宝卡片的小</tspan>
<tspan x="2216.3" y="1146.6">朋友，他们就一一到前面来一起拔萝卜，这样</tspan>
<tspan x="2216.3" y="1160.5">就加深了幼儿对数字宝宝的认识，当然，小朋</tspan>
<tspan x="2216.3" y="1174.4">友的学习兴趣也就很高了。</tspan>
</text></g>
<g id="p2-2-3"><text class="t" x="2007.6" y="1341">3、运用各种手段对幼儿进行数学教学</text></g>
<g id="p2-2-3-1"><text class="t" x="2216" y="1243">(1)摸一摸</text></g>
<g id="p2-2-3-1-a"><text class="t">
<tspan x="2292.4" y="1221.7">认识球体、长方体、正方体等物体时，我会让</tspan>
<tspan x="2292.4" y="1235.6">小朋友用手去摸一摸，让幼儿掌握各种物体的</tspan>
<tspan x="2292.4" y="1249.5">特点：是光滑的还是有棱角的?边线是弯的还</tspan>
<tspan x="2292.4" y="1263.4">是直的?</tspan>
</text></g>
<g id="p2-2-3-2"><text class="t" x="2216" y="1332">(2)看一看</text></g>
<g id="p2-2-3-2-a"><text class="t">
<tspan x="2292.4" y="1311.2">在学习《白天和黑夜》及《数字宝宝的认识》</tspan>
<tspan x="2292.4" y="1325.1">时，我会下载相关视频让幼儿观看，幼儿很感</tspan>
<tspan x="2292.4" y="1339">兴趣。视频能集中幼儿的注意力，也能在色彩</tspan>
<tspan x="2292.4" y="1352.9">斑斓的画面中加深幼儿的记忆力。</tspan>
</text></g>
<g id="p2-2-3-3"><text class="t" x="2216" y="1441.7">(3)唱一唱</text></g>
<g id="p2-2-3-3-a"><text class="t">
<tspan x="2292.4" y="1400">多让幼儿表达自己的观点，对培养幼儿的表达</tspan>
<tspan x="2292.4" y="1413.9">能力及思维的敏捷性有很大的作用。如为了让</tspan>
<tspan x="2292.4" y="1427.8">幼儿学会数数，我就教唱《拍手歌》："你拍</tspan>
<tspan x="2292.4" y="1441.7">1，我拍1，1个小孩穿花衣;你拍2，我拍2,2个</tspan>
<tspan x="2292.4" y="1455.6">小孩打电话;你拍3，我拍3,3个小孩吃饼干。</tspan>
<tspan x="2292.4" y="1469.5">"这样幼儿学在其中，乐在其中，也掌握了数</tspan>
<tspan x="2292.4" y="1483.4">字的顺序。</tspan>
</text></g>
<g id="p2-2-4"><text class="t" x="2007.6" y="1551.5">4、以竞赛的形式教学</text></g>
<g id="p2-2-4-a"><text class="t">
<tspan x="2141.3" y="1531.2">在学习过程中，加一些竞赛活动来学习数学，</tspan>
<tspan x="2141.3" y="1545.1">能起到事半功倍的效果。幼儿天生就有荣誉感</tspan>
<tspan x="2141.3" y="1559">，比比谁快，比比谁好，更能激发幼儿的学习</tspan>
<tspan x="2141.3" y="1572.9">兴趣。</tspan>
</text></g>
<g id="p2-3"><text class="t" x="1814.6" y="1620.7">三、达到的目标</text></g>
<g id="p2-goal"><text class="t" x="1568.8" y="1833.3">通过本学期的教学，达到了如下目标：</text></g>
<g id="p2-goal-1"><text class="t" x="1783.2" y="1689.7">1、养成了良好的课堂学习习惯</text></g>
<g id="p2-goal-1-a"><text class="t">
<tspan x="1960" y="1668.2">幼儿做到了上课不乱下位，认真听讲，不乱讲</tspan>
<tspan x="1960" y="1682.1">小话，注意力集中，端正就坐等。刚入园时，</tspan>
<tspan x="1960" y="1696">幼儿什么都不会，能够做到这些，说明他们已</tspan>
<tspan x="1960" y="1709.9">经养成了良好的课堂学习习惯。</tspan>
</text></g>
<g id="p2-goal-2"><text class="t">
<tspan x="1783.2" y="1758.1">2、认识了数字宝宝1到10，能说出每个数字</tspan>
<tspan x="1783.2" y="1772">宝宝的名称，并能理解其含义。</tspan>
</text></g>
<g id="p2-goal-3"><text class="t">
<tspan x="1783.2" y="1819.6">3、认识了圆形、长方形、正方形、三角形，</tspan>
<tspan x="1783.2" y="1833.5">能正确说出图形的名称，区分不同的图形。</tspan>
</text></g>
<g id="p2-goal-4"><text class="t">
<tspan x="1783.2" y="1880.7">4、能给具体物体配对，通过连线的方法找"</tspan>
<tspan x="1783.2" y="1894.6">朋友"，如"妈妈擦口红"、"爸爸刮胡子"、"爷</tspan>
<tspan x="1783.2" y="1908.5">爷拄拐杖"等。</tspan>
</text></g>
<g id="p2-goal-5"><text class="t">
<tspan x="1783.2" y="1963.4">5、能区分"黑夜与白天"、"上午和下午"、"上</tspan>
<tspan x="1783.2" y="1977.3">面与下面"、"前面与后面"、"多和少"等基本</tspan>
<tspan x="1783.2" y="1991.2">常识，并能把学到的内容融入到生活当中。</tspan>
</text></g>
<g id="p2-goal-5-a"><text class="t">
<tspan x="2029" y="1956.2">总之，一学期的工作有得有失，但得到的总是</tspan>
<tspan x="2029" y="1970.1">多的。在今后的教学工作中，我会不断提高自</tspan>
<tspan x="2029" y="1984">身素质，总结经验教训，把工作做得更好，争</tspan>
<tspan x="2029" y="1997.9">取更大的进步!</tspan>
</text></g>

<g id="p4">
<rect x="1355" y="2605" width="182" height="32" rx="16" class="bn"/>
<text class="bt" x="1446" y="2625.9">小班数学优秀教学总结篇4</text>
</g>
<g id="p4-intro"><text class="t">
<tspan x="1569" y="2045.1">本学期我园小班级针对"如何让幼儿快乐的学</tspan>
<tspan x="1569" y="2059">习数学"进行课题研究，本着"在实践中研究、</tspan>
<tspan x="1569" y="2072.9">在研究中实践"的原则，让幼儿轻松、快乐的</tspan>
<tspan x="1569" y="2086.8">氛围中学习数学。在本次人人参与的快乐数学</tspan>
<tspan x="1569" y="2100.7">教研活动中，由小班级每位教师承担一次园内</tspan>
<tspan x="1569" y="2114.6">数学教研公开课活动。活动中我们以集体备课</tspan>
<tspan x="1569" y="2128.5">的形式参与研究和讨论，观摩活动后，全园教</tspan>
<tspan x="1569" y="2142.4">师在专家的指导下，围绕教研目标反思交流，</tspan>
<tspan x="1569" y="2156.3">修改方案，然后再组织观摩，再研讨，再观摩</tspan>
<tspan x="1569" y="2170.2">，在这样一个跟进式研究和互助式研究过程中</tspan>
<tspan x="1569" y="2184.1">，研讨组织数学活动时应采用怎样的方式方法</tspan>
<tspan x="1569" y="2198">，从而提高教师组织数学教学活动的能力。</tspan>
</text></g>
<g id="p4-1"><text class="t" x="1569" y="2334">一、教研活动促教师专业化成长。</text></g>
<g id="p4-1-1"><text class="t" x="1761.9" y="2246">1、经过专家的指导提升教师自身水平。</text></g>
<g id="p4-1-2"><text class="t"><tspan x="1761.9" y="2293.6">2、有经验老师的引领，使我园的教研水平更</tspan><tspan x="1761.9" y="2307.5">上一层楼。</tspan></text></g>
<g id="p4-1-3"><text class="t"><tspan x="1761.9" y="2355.1">3、在专家进行教研评议时，教师们能积极踊</tspan><tspan x="1761.9" y="2369">跃地互动。</tspan></text></g>
<g id="p4-1-4"><text class="t"><tspan x="1761.9" y="2416.1">4、敢于对每个活动进行反思，在反思中找答</tspan><tspan x="1761.9" y="2430">案，更新教育理念。</tspan></text></g>
<g id="p4-2"><text class="t" x="1569.7" y="2652.3">二、教研活动中体现了二幼老师的专业素质。</text></g>
<g id="p4-2-1"><text class="t"><tspan x="1815.5" y="2478.1">1、每位教师设计的方案活动性强，小班的孩</tspan><tspan x="1815.5" y="2492">子年龄虽小，但学习数学的兴趣很浓厚，体现</tspan><tspan x="1815.5" y="2505.9">了快乐学数学的教育理念。</tspan></text></g>
<g id="p4-2-2"><text class="t"><tspan x="1815.5" y="2553.9">2、巧妙地加入了游戏、情景，体现了多元化</tspan><tspan x="1815.5" y="2567.8">的数学学习方法。</tspan></text></g>
<g id="p4-2-3"><text class="t" x="1815.5" y="2614.7">3、教师们教态亲切，师幼关系融洽。</text></g>
<g id="p4-2-4"><text class="t"><tspan x="1815.5" y="2662.4">4、活动的目的突出，体现了重难点，很好地</tspan><tspan x="1815.5" y="2676.3">实现了目标。</tspan></text></g>
<g id="p4-2-5"><text class="t"><tspan x="1815.5" y="2724.1">5、老师们有创造力，除了灵活运用书上的游</tspan><tspan x="1815.5" y="2738">戏，还运用了自己的一些游戏，适合小班年龄</tspan><tspan x="1815.5" y="2751.9">段的特点。</tspan></text></g>
<g id="p4-2-6"><text class="t"><tspan x="1815.5" y="2799.1">6、孩子们的常规习惯好，体现了老师平日的</tspan><tspan x="1815.5" y="2813">基本功扎实;教学中老师的语言简明，对孩子</tspan><tspan x="1815.5" y="2826.9">的指导性强。</tspan></text></g>
<g id="p4-3"><text class="t" x="1569.7" y="3128.3">三、教研活动促教师对新教育理念的内化。</text></g>
<g id="p4-3-1"><text class="t"><tspan x="1804" y="2875.4">1、在"感知3以内的量"的活动中，认识数形</tspan><tspan x="1804" y="2889.3">时，可以从图形、颜色等方面来反复认识数形</tspan><tspan x="1804" y="2903.2">。</tspan></text></g>
<g id="p4-3-2"><text class="t"><tspan x="1804" y="2950.4">2、老师们的游戏"感知3以内的量"还不够，</tspan><tspan x="1804" y="2964.3">呈现3个的数量，一定要体现集合的概念。</tspan></text></g>
<g id="p4-3-3"><text class="t"><tspan x="1804" y="3011.6">3、在进行比较、排序活动时，要遵从自左向</tspan><tspan x="1804" y="3025.5">右的顺序，给以明确的标记，作为错误控制。</tspan></text></g>
<g id="p4-3-4"><text class="t"><tspan x="1804" y="3073.7">4、数学活动中所讲的故事，一定要紧紧围绕</tspan><tspan x="1804" y="3087.6">活动目标进行有效地提问，强调量与量的对应</tspan><tspan x="1804" y="3101.5">。</tspan></text></g>
<g id="p4-3-5"><text class="t"><tspan x="1804" y="3148.6">5、在点数活动中，如果出现偏差，切记不否</tspan><tspan x="1804" y="3162.5">认孩子，老师要正确引导，尽量淡化孩子的行</tspan><tspan x="1804" y="3176.4">为。</tspan></text></g>
<g id="p4-3-6"><text class="t"><tspan x="1804" y="3224.1">6、数学活动不能太随性，要严谨注意量数对</tspan><tspan x="1804" y="3238">应的情况下，一定要对应好，给孩子正确的数</tspan><tspan x="1804" y="3251.9">概念。</tspan></text></g>
<g id="p4-3-7"><text class="t"><tspan x="1804" y="3299.1">7、在数学活动中，分组的练习要体现分层，</tspan><tspan x="1804" y="3313">促进幼儿个体差异发展。</tspan></text></g>
<g id="p4-3-8"><text class="t"><tspan x="1804" y="3360.8">8、十位老师按专家的指导讲评，将活动方案</tspan><tspan x="1804" y="3374.7">、反思的电子文稿发给饶园长。</tspan></text></g>
</svg>
